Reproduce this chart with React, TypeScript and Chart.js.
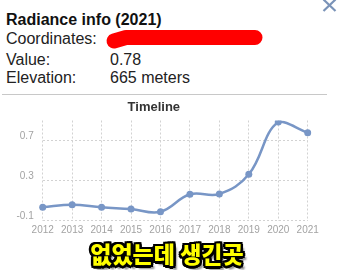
import React, { useEffect, useRef } from "react";
import { Chart, registerables } from "chart.js";

Chart.register(...registerables);

const years = ["2012", "2013", "2014", "2015", "2016", "2017", "2018", "2019", "2020", "2021"];
const radiance = [0.032, 0.058, 0.032, 0.015, -0.012, 0.162, 0.165, 0.362, 0.885, 0.778];
const yTicks = [-0.1, 0.3, 0.7];
const yMin = -0.1;
const yMax = 0.9;

const infoRows = [
  { label: "Coordinates:", value: "" },
  { label: "Value:", value: "0.78" },
  { label: "Elevation:", value: "665 meters" },
];
const infoBaselines = [44, 65, 83];

const FONT = "'Liberation Sans', Arial, Helvetica, sans-serif";

export default function App() {
  const canvasRef = useRef<HTMLCanvasElement | null>(null);

  useEffect(() => {
    if (!canvasRef.current) return;
    Chart.defaults.font.family = FONT;
    const chart = new Chart(canvasRef.current, {
      type: "line",
      data: {
        labels: years,
        datasets: [
          {
            data: radiance,
            borderColor: "#7896c6",
            backgroundColor: "#7896c6",
            borderWidth: 2.5,
            pointRadius: 3.5,
            pointBorderWidth: 0,
            pointBackgroundColor: "#7896c6",
            tension: 0.4,
            fill: false,
          },
        ],
      },
      options: {
        animation: false,
        responsive: false,
        maintainAspectRatio: false,
        layout: { padding: { left: 0, right: 30.3, top: 0, bottom: 0 } },
        plugins: {
          legend: { display: false },
          tooltip: { enabled: false },
          title: {
            display: true,
            text: "Timeline",
            color: "#333333",
            font: { size: 13, weight: "bold", family: FONT },
            padding: { top: 4.4, bottom: 5.5 },
          },
        },
        scales: {
          x: {
            grid: {
              color: "#d2d2d2",
              lineWidth: 1,
              drawTicks: false,
              borderDash: [2, 2],
            } as any,
            border: { display: false, dash: [2, 2] },
            ticks: {
              color: "#a3a3a3",
              font: { size: 10, family: FONT },
              padding: 4,
              autoSkip: false,
              maxRotation: 0,
            },
            afterFit: (scale: any) => {
              scale.height = 20.5;
            },
          },
          y: {
            min: yMin,
            max: yMax,
            grid: {
              color: "#d2d2d2",
              lineWidth: 1,
              drawTicks: false,
              borderDash: [2, 2],
            } as any,
            border: { display: false, dash: [2, 2] },
            afterBuildTicks: (scale: any) => {
              scale.ticks = yTicks.map((v) => ({ value: v }));
            },
            ticks: {
              color: "#a3a3a3",
              font: { size: 10, family: FONT },
              padding: 9,
              labelOffset: -4,
              callback: (v: any) => Number(v).toFixed(1),
            },
            afterFit: (scale: any) => {
              scale.width = 42.7;
            },
          },
        },
      },
    });
    return () => chart.destroy();
  }, []);

  const textStyle: React.CSSProperties = {
    position: "absolute",
    fontFamily: FONT,
    fontSize: 16,
    lineHeight: "16px",
    color: "#222",
    whiteSpace: "nowrap",
  };

  const outline = "#000";
  const s = 2.1;
  const d = 1.5;
  const captionShadow = [
    `${-s}px ${-s}px 0 ${outline}`,
    `${s}px ${-s}px 0 ${outline}`,
    `${-s}px ${s}px 0 ${outline}`,
    `${s}px ${s}px 0 ${outline}`,
    `0 ${s + 0.4}px 0 ${outline}`,
    `0 ${-s - 0.4}px 0 ${outline}`,
    `${s + 0.4}px 0 0 ${outline}`,
    `${-s - 0.4}px 0 0 ${outline}`,
    `${d}px ${-s}px 0 ${outline}`,
    `${-d}px ${s}px 0 ${outline}`,
    `3.5px 3.5px 2px #8a8a8a`,
  ].join(", ");

  return (
    <div
      style={{
        position: "fixed",
        left: 0,
        top: 0,
        width: 338,
        height: 270,
        background: "#ffffff",
        overflow: "hidden",
      }}
    >
      <div style={{ ...textStyle, left: 6, top: 25 - 13.5, fontWeight: "bold", color: "#111" }}>
        Radiance info (2021)
      </div>
      {infoRows.map((r, i) => (
        <React.Fragment key={r.label}>
          <div style={{ ...textStyle, left: 6, top: infoBaselines[i] - 13.5 }}>{r.label}</div>
          {r.value ? (
            <div style={{ ...textStyle, left: 110, top: infoBaselines[i] - 13.5 }}>{r.value}</div>
          ) : null}
        </React.Fragment>
      ))}
      <svg
        width={338}
        height={270}
        style={{ position: "absolute", left: 0, top: 0, pointerEvents: "none" }}
      >
        <polyline
          points="114,41 126,37.5 255,37.5"
          fill="none"
          stroke="#ff0000"
          strokeWidth={15}
          strokeLinecap="round"
          strokeLinejoin="round"
        />
        <line x1={323.5} y1={-0.5} x2={335.5} y2={11} stroke="#7a93b8" strokeWidth={2.2} />
        <line x1={335.5} y1={-0.5} x2={323.5} y2={11} stroke="#7a93b8" strokeWidth={2.2} />
      </svg>
      <div
        style={{
          position: "absolute",
          left: 2,
          top: 94,
          width: 325,
          height: 1,
          background: "#c8c8c8",
        }}
      />
      <canvas
        ref={canvasRef}
        width={338}
        height={146}
        style={{ position: "absolute", left: 0, top: 95, width: 338, height: 146 }}
      />
      <div
        style={{
          position: "absolute",
          left: 0,
          width: 334,
          top: 238,
          height: 30,
          lineHeight: "30px",
          textAlign: "center",
          fontFamily: "'Noto Sans CJK KR', 'Noto Sans CJK SC', sans-serif",
          fontWeight: 900,
          fontSize: 23,
          color: "#ffff00",
          textShadow: captionShadow,
          whiteSpace: "nowrap",
        }}
      >
        없었는데 생긴곳
      </div>
    </div>
  );
}
